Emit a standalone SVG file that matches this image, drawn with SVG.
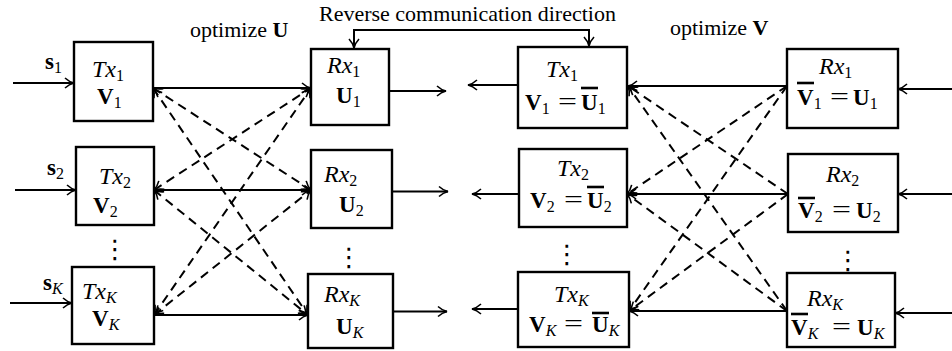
<svg xmlns="http://www.w3.org/2000/svg" width="952" height="351" viewBox="0 0 952 351">
<style>
.box{fill:#fff;stroke:#000;stroke-width:2.4}
.ln{fill:none;stroke:#000;stroke-width:2}
.ds{fill:none;stroke:#000;stroke-width:2;stroke-dasharray:9 6}
.t{font-family:"Liberation Serif",serif;font-size:22px;fill:#000}
.mi{font-family:"Liberation Serif",serif;font-style:italic;font-size:24px;fill:#000}
.mb{font-family:"Liberation Serif",serif;font-weight:bold;font-size:23px;fill:#000}
.mr{font-family:"Liberation Serif",serif;font-size:23px;fill:#000}
.sub{font-size:16px;font-weight:normal;font-style:normal}
.subi{font-size:16px;font-weight:normal;font-style:italic}
.bar{stroke:#000;stroke-width:2.6}
.dots{font-family:"DejaVu Sans",sans-serif;font-size:26px;fill:#000;text-anchor:middle}
</style>
<defs>
<marker id="ar" viewBox="-11 -7 13 14" refX="0" refY="0" markerWidth="13" markerHeight="14" markerUnits="userSpaceOnUse" orient="auto-start-reverse">
<path d="M-9,-5 C-6,-2.2 -2.5,-0.6 0,0 C-2.5,0.6 -6,2.2 -9,5" fill="none" stroke="#000" stroke-width="1.6"/>
</marker>
</defs>

<text class="t" x="319" y="21">Reverse communication direction</text>
<text class="t" x="190" y="37">optimize <tspan font-weight="bold">U</tspan></text>
<text class="t" x="670" y="35">optimize <tspan font-weight="bold">V</tspan></text>

<g id="connectors">
<path class="ln" d="M354,48 V30 H589 V46" marker-start="url(#ar)" marker-end="url(#ar)"/>
<line class="ln" x1="13" y1="83" x2="74" y2="83" marker-end="url(#ar)"/>
<line class="ln" x1="15" y1="190" x2="76" y2="190" marker-end="url(#ar)"/>
<line class="ln" x1="10" y1="303" x2="72" y2="303" marker-end="url(#ar)"/>
<line class="ln" x1="153" y1="88" x2="311" y2="88" marker-end="url(#ar)"/>
<line class="ln" x1="154" y1="190" x2="311" y2="190" marker-end="url(#ar)"/>
<line class="ln" x1="154" y1="315" x2="308" y2="315" marker-end="url(#ar)"/>
<line class="ln" x1="389" y1="91" x2="446" y2="91" marker-end="url(#ar)"/>
<line class="ln" x1="392" y1="191.5" x2="448" y2="191.5" marker-end="url(#ar)"/>
<line class="ln" x1="393" y1="311.5" x2="447" y2="311.5" marker-end="url(#ar)"/>
<line class="ds" x1="153" y1="88" x2="311" y2="190" marker-start="url(#ar)" marker-end="url(#ar)"/>
<line class="ds" x1="153" y1="88" x2="308" y2="315" marker-start="url(#ar)" marker-end="url(#ar)"/>
<line class="ds" x1="154" y1="190" x2="311" y2="88" marker-start="url(#ar)" marker-end="url(#ar)"/>
<line class="ds" x1="154" y1="190" x2="308" y2="315" marker-start="url(#ar)" marker-end="url(#ar)"/>
<line class="ds" x1="154" y1="315" x2="311" y2="88" marker-start="url(#ar)" marker-end="url(#ar)"/>
<line class="ds" x1="154" y1="315" x2="311" y2="190" marker-start="url(#ar)" marker-end="url(#ar)"/>

<line class="ln" x1="518" y1="85" x2="468" y2="85" marker-end="url(#ar)"/>
<line class="ln" x1="519" y1="194" x2="472" y2="194" marker-end="url(#ar)"/>
<line class="ln" x1="518" y1="309" x2="472" y2="309" marker-end="url(#ar)"/>
<line class="ln" x1="787" y1="86" x2="628" y2="86" marker-end="url(#ar)"/>
<line class="ln" x1="788" y1="194" x2="627" y2="194" marker-end="url(#ar)"/>
<line class="ln" x1="787" y1="311" x2="629" y2="311" marker-end="url(#ar)"/>
<line class="ln" x1="952" y1="89" x2="898" y2="89" marker-end="url(#ar)"/>
<line class="ln" x1="952" y1="194" x2="898" y2="194" marker-end="url(#ar)"/>
<line class="ln" x1="952" y1="313" x2="895" y2="313" marker-end="url(#ar)"/>
<line class="ds" x1="787" y1="86" x2="627" y2="194" marker-end="url(#ar)"/>
<line class="ds" x1="787" y1="86" x2="629" y2="311" marker-end="url(#ar)"/>
<line class="ds" x1="788" y1="194" x2="628" y2="86" marker-end="url(#ar)"/>
<line class="ds" x1="788" y1="194" x2="629" y2="311" marker-end="url(#ar)"/>
<line class="ds" x1="787" y1="311" x2="628" y2="86" marker-end="url(#ar)"/>
<line class="ds" x1="787" y1="311" x2="627" y2="194" marker-end="url(#ar)"/>
</g>

<g id="labels-s">
<text class="mb" x="45" y="69">s<tspan class="sub" dy="4">1</tspan></text>
<text class="mb" x="47" y="175">s<tspan class="sub" dy="4">2</tspan></text>
<text class="mb" x="43" y="290">s<tspan class="subi" dy="4">K</tspan></text>
</g>

<g id="tx1">
<rect class="box" x="74" y="42" width="79" height="79"/>
<text class="mi" x="92" y="77">Tx<tspan class="sub" dy="4">1</tspan></text>
<text class="mb" x="97" y="104">V<tspan class="sub" dy="4">1</tspan></text>
</g>
<g id="rx1">
<rect class="box" x="311" y="49" width="78" height="76"/>
<text class="mi" x="327" y="73">Rx<tspan class="sub" dy="4">1</tspan></text>
<text class="mb" x="336" y="103">U<tspan class="sub" dy="4">1</tspan></text>
</g>
<g id="tx2">
<rect class="box" x="76" y="147" width="78" height="78"/>
<text class="mi" x="99" y="184">Tx<tspan class="sub" dy="4">2</tspan></text>
<text class="mb" x="93" y="213">V<tspan class="sub" dy="4">2</tspan></text>
</g>
<g id="rx2">
<rect class="box" x="311" y="150" width="81" height="78"/>
<text class="mi" x="324" y="182">Rx<tspan class="sub" dy="4">2</tspan></text>
<text class="mb" x="339" y="212">U<tspan class="sub" dy="4">2</tspan></text>
</g>
<g id="txK">
<rect class="box" x="72" y="267" width="82" height="77"/>
<text class="mi" x="82" y="299">Tx<tspan class="subi" dy="4">K</tspan></text>
<text class="mb" x="92" y="326">V<tspan class="subi" dy="4">K</tspan></text>
</g>
<g id="rxK">
<rect class="box" x="308" y="274" width="85" height="74"/>
<text class="mi" x="324" y="302">Rx<tspan class="subi" dy="4">K</tspan></text>
<text class="mb" x="336" y="334">U<tspan class="subi" dy="4">K</tspan></text>
</g>

<g id="tx1r">
<rect class="box" x="518" y="47" width="109" height="81"/>
<text class="mi" x="546" y="77">Tx<tspan class="sub" dy="4">1</tspan></text>
<text class="mb" x="525" y="110">V<tspan class="sub" dy="4">1</tspan></text>
<text class="mr" x="558" y="109" textLength="19" lengthAdjust="spacingAndGlyphs">=</text>
<text class="mb" x="581" y="110">U<tspan class="sub" dy="4">1</tspan></text>
<line class="bar" x1="581" y1="88" x2="598" y2="88"/>
</g>
<g id="rx1r">
<rect class="box" x="787" y="49" width="111" height="79"/>
<text class="mi" x="819" y="74">Rx<tspan class="sub" dy="4">1</tspan></text>
<text class="mb" x="797" y="105">V<tspan class="sub" dy="4">1</tspan></text>
<text class="mr" x="830" y="104" textLength="19" lengthAdjust="spacingAndGlyphs">=</text>
<text class="mb" x="853" y="105">U<tspan class="sub" dy="4">1</tspan></text>
<line class="bar" x1="797" y1="83" x2="814" y2="83"/>
</g>
<g id="tx2r">
<rect class="box" x="519" y="149" width="108" height="78"/>
<text class="mi" x="557" y="176">Tx<tspan class="sub" dy="4">2</tspan></text>
<text class="mb" x="530" y="208">V<tspan class="sub" dy="4">2</tspan></text>
<text class="mr" x="564" y="207" textLength="19" lengthAdjust="spacingAndGlyphs">=</text>
<text class="mb" x="587" y="208">U<tspan class="sub" dy="4">2</tspan></text>
<line class="bar" x1="587" y1="187" x2="604" y2="187"/>
</g>
<g id="rx2r">
<rect class="box" x="788" y="154" width="110" height="78"/>
<text class="mi" x="826" y="182">Rx<tspan class="sub" dy="4">2</tspan></text>
<text class="mb" x="798" y="218">V<tspan class="sub" dy="4">2</tspan></text>
<text class="mr" x="832" y="217" textLength="19" lengthAdjust="spacingAndGlyphs">=</text>
<text class="mb" x="856" y="218">U<tspan class="sub" dy="4">2</tspan></text>
<line class="bar" x1="798" y1="198" x2="815" y2="198"/>
</g>
<g id="txKr">
<rect class="box" x="518" y="272" width="111" height="75"/>
<text class="mi" x="554" y="302">Tx<tspan class="subi" dy="4">K</tspan></text>
<text class="mb" x="529" y="332">V<tspan class="subi" dy="4">K</tspan></text>
<text class="mr" x="564" y="331" textLength="19" lengthAdjust="spacingAndGlyphs">=</text>
<text class="mb" x="592" y="332">U<tspan class="subi" dy="4">K</tspan></text>
<line class="bar" x1="592" y1="313" x2="609" y2="313"/>
</g>
<g id="rxKr">
<rect class="box" x="787" y="273" width="108" height="74"/>
<text class="mi" x="807" y="306">Rx<tspan class="subi" dy="4">K</tspan></text>
<text class="mb" x="791" y="335">V<tspan class="subi" dy="4">K</tspan></text>
<text class="mr" x="832" y="334" textLength="19" lengthAdjust="spacingAndGlyphs">=</text>
<text class="mb" x="857" y="335">U<tspan class="subi" dy="4">K</tspan></text>
<line class="bar" x1="791" y1="314" x2="808" y2="314"/>
</g>

<g id="vdots">
<text class="dots" x="115" y="258">⋮</text>
<text class="dots" x="349" y="266">⋮</text>
<text class="dots" x="567" y="263">⋮</text>
<text class="dots" x="848" y="269">⋮</text>
</g>
</svg>
